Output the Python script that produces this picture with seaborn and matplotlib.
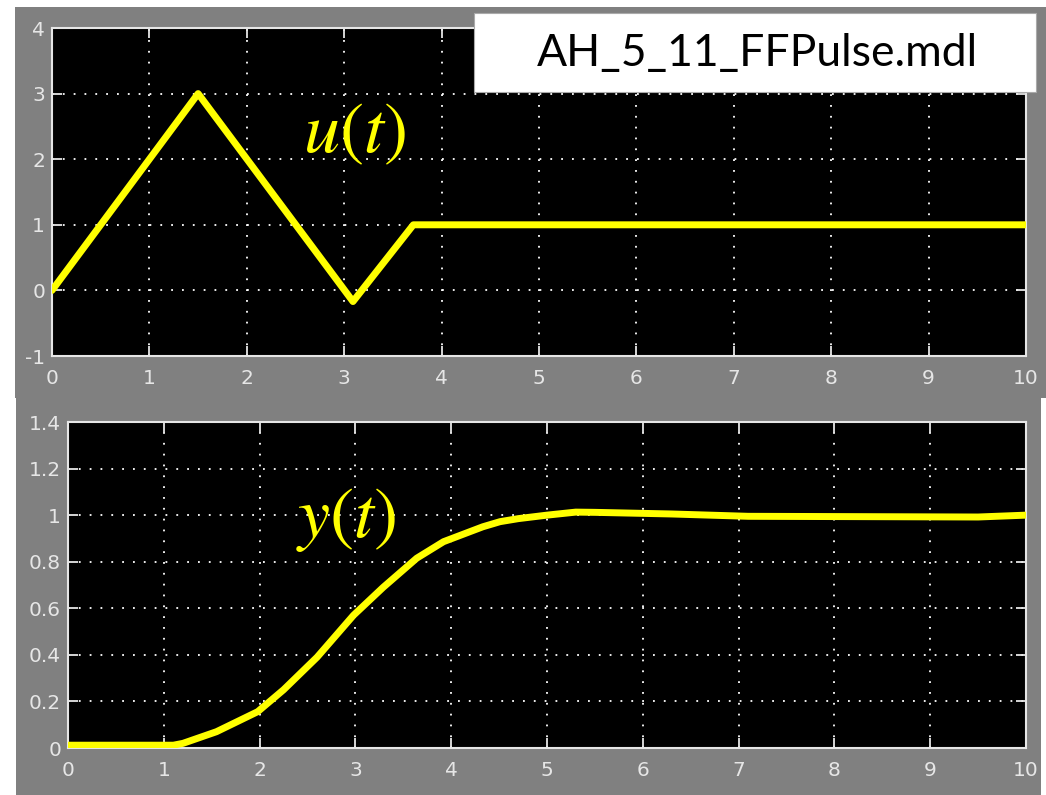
import matplotlib
matplotlib.use("Agg")
import matplotlib.pyplot as plt
import seaborn as sns
import pandas as pd
from matplotlib.patches import Rectangle

# ---- data ----
u_t = [0, 1.5, 3.09, 3.71, 10]
u_v = [0, 3, -0.17, 1, 1]

y_t = [0, 1.1, 1.2, 1.55, 1.98, 2.25, 2.6, 2.98, 3.29, 3.64, 3.92, 4.33, 4.51,
       4.7, 5.0, 5.3, 5.5, 6.3, 7.1, 9.5, 10]
y_v = [0.012, 0.012, 0.02, 0.07, 0.156, 0.25, 0.39, 0.57, 0.69, 0.815, 0.886,
       0.95, 0.972, 0.985, 1.0, 1.013, 1.012, 1.005, 0.995, 0.992, 1.0]

x_ticks = list(range(0, 11))
u_ticks = [-1, 0, 1, 2, 3, 4]
y_ticks = [0, 0.2, 0.4, 0.6, 0.8, 1.0, 1.2, 1.4]
y_ticklabels = ["0", "0.2", "0.4", "0.6", "0.8", "1", "1.2", "1.4"]

title_text = "AH_5_11_FFPulse.mdl"
u_label = r"$u(t)$"
y_label = r"$y(t)$"

# ---- style ----
sns.set_style("dark")
plt.rcParams["font.family"] = ["DejaVu Sans"]
plt.rcParams["mathtext.fontset"] = "stix"

W, H = 1046, 795
fig = plt.figure(figsize=(W / 100, H / 100), dpi=100, facecolor="white")

gray = "#808080"
fg = "#e6e6e6"
fig.patches.append(Rectangle((15 / W, 1 - 398 / H), (W - 15) / W, (398 - 7) / H,
                             transform=fig.transFigure, facecolor=gray,
                             edgecolor="none", zorder=-10))
fig.patches.append(Rectangle((16 / W, 0), (1041 - 16) / W, (795 - 398) / H,
                             transform=fig.transFigure, facecolor=gray,
                             edgecolor="none", zorder=-10))

ax1 = fig.add_axes([52 / W, 1 - 356 / H, (1026 - 52) / W, (356 - 28) / H])
ax2 = fig.add_axes([68 / W, 1 - 748 / H, (1026 - 68) / W, (748 - 422) / H])

df_u = pd.DataFrame({"t": u_t, "u": u_v})
df_y = pd.DataFrame({"t": y_t, "y": y_v})

sns.lineplot(data=df_u, x="t", y="u", ax=ax1, color="#ffff00", linewidth=5,
             sort=False, estimator=None, zorder=5)
sns.lineplot(data=df_y, x="t", y="y", ax=ax2, color="#ffff00", linewidth=5,
             sort=False, estimator=None, zorder=5)

for ax in (ax1, ax2):
    ax.set_zorder(1)
    ax.set_facecolor("black")
    ax.set_xlim(0, 10)
    ax.set_xticks(x_ticks)
    ax.set_xticklabels([str(v) for v in x_ticks])
    ax.set_xlabel("")
    ax.set_ylabel("")
    ax.grid(True, color="white", linestyle=(0, (1, 5)), linewidth=1.3)
    ax.set_axisbelow(True)
    for s in ax.spines.values():
        s.set_visible(True)
        s.set_color(fg)
        s.set_linewidth(1.5)
    ax.tick_params(direction="in", length=7, width=1.3, color=fg,
                   labelcolor=fg, labelsize=14.5, top=True, right=True,
                   bottom=True, left=True)
    ax.tick_params(axis="x", pad=9)
    ax.tick_params(axis="y", pad=5)

ax1.set_ylim(-1, 4)
ax1.set_yticks(u_ticks)
ax1.set_yticklabels([str(v) for v in u_ticks])
ax2.set_ylim(0, 1.4)
ax2.set_yticks(y_ticks)
ax2.set_yticklabels(y_ticklabels)

ax1.text(3.11, 2.4, u_label, color="#ffff00", fontsize=52, ha="center",
         va="center", zorder=6)
ax2.text(2.9, 0.98, y_label, color="#ffff00", fontsize=52, ha="center",
         va="center", zorder=6)

# title box
fig.patches.append(Rectangle((474 / W, 1 - 92 / H), (1036 - 474) / W, (92 - 13) / H,
                             transform=fig.transFigure, facecolor="white",
                             edgecolor="#aaaaaa", linewidth=0.8, zorder=10))
fig.text(757 / W, 1 - 53 / H, title_text, fontsize=32, ha="center", va="center",
         color="black", family=["Lato", "DejaVu Sans"], zorder=11)

fig.savefig("out.png", dpi=100, facecolor="white")
